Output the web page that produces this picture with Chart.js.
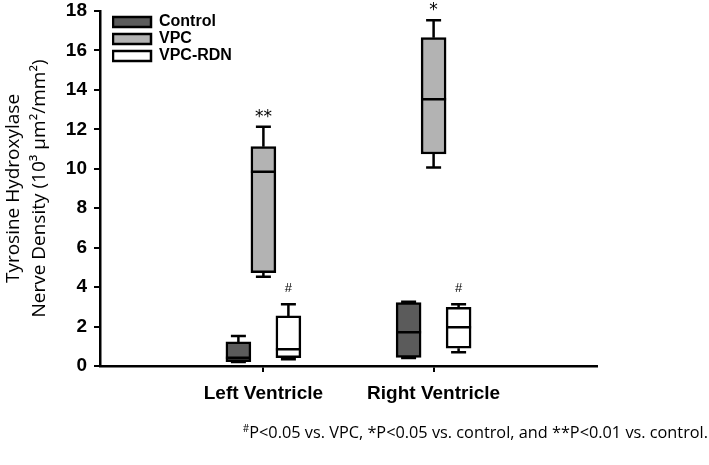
<!DOCTYPE html>
<html>
<head>
<meta charset="utf-8">
<script src="https://cdn.jsdelivr.net/npm/chart.js@4.4.1/dist/chart.umd.min.js"></script>
<style>
  body { margin: 0; background: #fff; }
  #wrap { position: relative; width: 709px; height: 465px; }
  #note {
    position: absolute; right: 1px; top: 421px;
    font-family: 'Open Sans', sans-serif; font-size: 16.3px; color: #000;
    white-space: nowrap;
  }
  #note sup { font-size: 10px; }
</style>
</head>
<body>
<div id="wrap">
  <canvas id="thChart"></canvas>
  <div id="note"><sup>#</sup>P&lt;0.05 vs. VPC, *P&lt;0.05 vs. control, and **P&lt;0.01 vs. control.</div>
</div>
<script>
// Tyrosine hydroxylase nerve density - box plots per ventricle

const groups = ['Left Ventricle', 'Right Ventricle'];
const seriesNames = ['Control', 'VPC', 'VPC-RDN'];
const seriesColors = ['#5b5b5b', '#b3b3b3', '#ffffff'];

// five-number summaries per ventricle: [min, q1, median, q3, max]
const controlStats = [[0.2, 0.22, 0.42, 1.22, 1.52], [0.4, 0.44, 1.71, 3.21, 3.26]];
const vpcStats = [[4.53, 4.73, 9.85, 11.12, 12.13], [10.06, 10.75, 13.52, 16.65, 17.53]];
const rdnStats = [[0.34, 0.42, 0.85, 2.54, 3.13], [0.7, 0.9, 1.96, 2.98, 3.13]];

// significance marks above each box
const controlMarks = ['', ''];
const vpcMarks = ['**', '*'];
const rdnMarks = ['#', '#'];

const allStats = [controlStats, vpcStats, rdnStats];
const allMarks = [controlMarks, vpcMarks, rdnMarks];

// Build the floating bar datasets (box = q1..q3)
const datasets = seriesNames.map((name, s) => ({
    label: name,
    data: allStats[s].map((st, i) => ({ x: i + 1, y: [st[1], st[3]] })),
    stats: allStats[s],
    marks: allMarks[s],
    backgroundColor: seriesColors[s],
    borderColor: '#000',
    borderWidth: 2.5,
    borderSkipped: false,
    barThickness: 25
}));

// Whiskers, medians and significance marks
const boxPlotPlugin = {
    id: 'boxPlot',
    afterLayout(chart) {
        // legend sits in the top-left corner of the plot
        const area = chart.chartArea;
        chart.legend.left = area.left + 12;
        chart.legend.top = area.top + 2;
    },
    afterDatasetsDraw(chart) {
        const ctx = chart.ctx;
        const y = chart.scales.y;
        ctx.save();
        ctx.strokeStyle = '#000';
        ctx.lineWidth = 2.5;
        chart.data.datasets.forEach((ds, d) => {
            const meta = chart.getDatasetMeta(d);
            meta.data.forEach((bar, i) => {
                const [min, q1, med, q3, max] = ds.stats[i];
                const half = bar.width / 2;
                const cap = bar.width * 0.3;
                const yMin = y.getPixelForValue(min);
                const yQ1 = y.getPixelForValue(q1);
                const yMed = y.getPixelForValue(med);
                const yQ3 = y.getPixelForValue(q3);
                const yMax = y.getPixelForValue(max);

                ctx.beginPath();
                ctx.moveTo(bar.x, yQ3);
                ctx.lineTo(bar.x, yMax);
                ctx.moveTo(bar.x - cap, yMax);
                ctx.lineTo(bar.x + cap, yMax);
                ctx.moveTo(bar.x, yQ1);
                ctx.lineTo(bar.x, yMin);
                ctx.moveTo(bar.x - cap, yMin);
                ctx.lineTo(bar.x + cap, yMin);
                ctx.moveTo(bar.x - half, yMed);
                ctx.lineTo(bar.x + half, yMed);
                ctx.stroke();

                const mark = ds.marks[i];
                if (mark) {
                    ctx.fillStyle = '#000';
                    ctx.textAlign = 'center';
                    ctx.textBaseline = 'alphabetic';
                    if (mark === '#') {
                        ctx.font = '13px "Liberation Sans"';
                        ctx.fillText(mark, bar.x, yMax - 12);
                    } else {
                        ctx.font = '17px "DejaVu Sans"';
                        ctx.fillText(mark, bar.x, yMax - 5);
                    }
                }
            });
        });
        ctx.restore();
    }
};

const ctx = document.getElementById('thChart').getContext('2d');
new Chart(ctx, {
    type: 'bar',
    data: { datasets: datasets },
    options: {
        responsive: true,
        maintainAspectRatio: false,
        animation: false,
        layout: { padding: { top: 11, right: 112, left: 0, bottom: 0 } },
        plugins: {
            tooltip: { enabled: false },
            legend: {
                position: 'chartArea',
                align: 'start',
                labels: {
                    color: '#000',
                    boxWidth: 38,
                    boxHeight: 10,
                    padding: 1,
                    font: { family: 'Liberation Sans', size: 16, weight: 'bold', lineHeight: 1.12 }
                }
            }
        },
        scales: {
            x: {
                type: 'linear',
                min: 0.04,
                max: 2.96,
                offset: false,
                afterBuildTicks(scale) {
                    scale.ticks = groups.map((g, i) => ({ value: i + 1 }));
                },
                afterFit(scale) { scale.height = 99; },
                ticks: {
                    callback: (value, index) => groups[index],
                    color: '#000',
                    padding: 10,
                    font: { family: 'Liberation Sans', size: 19, weight: 'bold' }
                },
                grid: { offset: false, drawOnChartArea: false, drawTicks: true, tickLength: 6, color: '#000', lineWidth: 2 },
                border: { color: '#000', width: 2.5 }
            },
            y: {
                min: 0,
                max: 18,
                afterFit(scale) {
                    scale.width = 100;
                    scale.paddingTop = 11;
                    scale.paddingBottom = 0;
                },
                ticks: {
                    stepSize: 2,
                    color: '#000',
                    padding: 7,
                    font: { family: 'Liberation Sans', size: 19, weight: 'bold' }
                },
                title: {
                    display: true,
                    text: ['Tyrosine Hydroxylase', 'Nerve Density (10\u00b3 \u03bcm\u00b2/mm\u00b2)'],
                    color: '#000',
                    padding: { top: 1, bottom: 0 },
                    font: { family: 'Open Sans', size: 19, lineHeight: 1.35 }
                },
                grid: { drawOnChartArea: false, drawTicks: true, tickLength: 6, color: '#000', lineWidth: 2 },
                border: { color: '#000', width: 2.5 }
            }
        }
    },
    plugins: [boxPlotPlugin]
});
</script>
</body>
</html>
